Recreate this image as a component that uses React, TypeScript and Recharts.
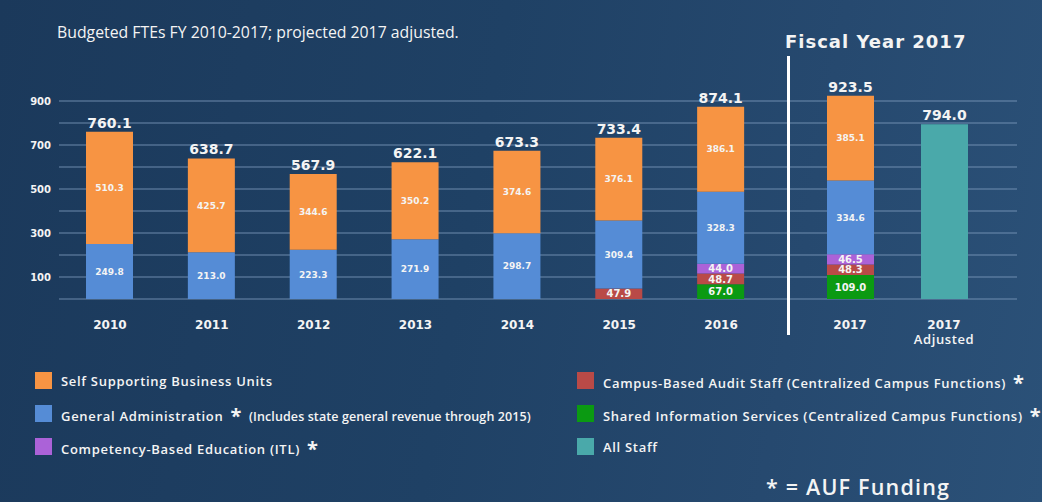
import React from 'react';
import { BarChart, Bar, XAxis, YAxis, CartesianGrid, LabelList } from 'recharts';

// ---------- data ----------
const categories = ['2010', '2011', '2012', '2013', '2014', '2015', '2016', '2017', '2017 Adjusted'];
const selfSupporting = [510.3, 425.7, 344.6, 350.2, 374.6, 376.1, 386.1, 385.1, null];
const generalAdmin = [249.8, 213.0, 223.3, 271.9, 298.7, 309.4, 328.3, 334.6, null];
const competencyBased = [null, null, null, null, null, null, 44.0, 46.5, null];
const auditStaff = [null, null, null, null, null, 47.9, 48.7, 48.3, null];
const sharedInfo = [null, null, null, null, null, null, 67.0, 109.0, null];
const allStaff = [null, null, null, null, null, null, null, null, 794.0];
const yTicks = [0, 100, 200, 300, 400, 500, 600, 700, 800, 900];
const splitIndex = 7; // categories before the "Fiscal Year 2017" divider

const title = 'Budgeted FTEs FY 2010-2017; projected 2017 adjusted.';
const fiscalTitle = 'Fiscal Year 2017';
const footnote = '* = AUF Funding';

// series in stacking order (bottom -> top)
const series = [
  { key: 'shared', name: 'Shared Information Services (Centralized Campus Functions)', star: true, note: '', color: '#0b9a12', values: sharedInfo },
  { key: 'audit', name: 'Campus-Based Audit Staff (Centralized Campus Functions)', star: true, note: '', color: '#b94a47', values: auditStaff },
  { key: 'cbe', name: 'Competency-Based Education (ITL)', star: true, note: '', color: '#ab62d8', values: competencyBased },
  { key: 'ga', name: 'General Administration', star: true, note: '(Includes state general revenue through 2015)', color: '#558cd6', values: generalAdmin },
  { key: 'ssbu', name: 'Self Supporting Business Units', star: false, note: '', color: '#f79443', values: selfSupporting },
  { key: 'all', name: 'All Staff', star: false, note: '', color: '#4aa9aa', values: allStaff },
];
const legendLeft = ['ssbu', 'ga', 'cbe'];
const legendRight = ['audit', 'shared', 'all'];

const rows = categories.map((c, i) => {
  const row: any = { name: c };
  let total = 0;
  series.forEach((s) => {
    row[s.key] = s.values[i];
    if (s.values[i] != null && s.key !== 'all') total += s.values[i] as number;
  });
  row.ssbuTotal = selfSupporting[i] != null ? total : null;
  row.allTotal = allStaff[i];
  return row;
});
const leftRows = rows.slice(0, splitIndex);
const rightRows = rows.slice(splitIndex);

const NUM_FONT = '"DejaVu Sans", sans-serif';
const TXT_FONT = '"Open Sans", sans-serif';
const WHITE = '#f4f4f4';

const InnerLabel = (props: any) => {
  const { x, y, width, height, value } = props;
  if (value == null || !height) return null;
  const small = value < 120;
  return (
    <text x={x + width / 2} y={y + height / 2} dy="0.36em" textAnchor="middle" fill={WHITE}
      fontFamily={NUM_FONT} fontWeight="bold" fontSize={small ? 10 : 9}>
      {Number(value).toFixed(1)}
    </text>
  );
};

const TotalLabel = (props: any) => {
  const { x, y, width, value } = props;
  if (value == null) return null;
  return (
    <text x={x + width / 2} y={y - 4} textAnchor="middle" fill={WHITE}
      fontFamily={NUM_FONT} fontWeight="bold" fontSize={14}>
      {Number(value).toFixed(1)}
    </text>
  );
};

const XTick = (props: any) => {
  const { x, y, payload } = props;
  const parts = String(payload.value).split(' ');
  return (
    <text x={x} y={y + 30} textAnchor="middle" fill={WHITE} fontFamily={NUM_FONT} fontWeight="bold" fontSize={12}>
      {parts.map((p, i) => (
        <tspan key={i} x={x} dy={i === 0 ? 0 : 15} fontFamily={i === 0 ? NUM_FONT : TXT_FONT} fontSize={i === 0 ? 12 : 13} fontWeight={i === 0 ? 'bold' : 600} letterSpacing={i === 0 ? 0 : 0.6}>{p}</tspan>
      ))}
    </text>
  );
};

const gridProps = { vertical: false, horizontalValues: yTicks, stroke: '#7f9dbd', strokeOpacity: 0.55, strokeWidth: 1.5 };

const renderBars = () =>
  series.map((s) => (
    <Bar key={s.key} dataKey={s.key} stackId="a" fill={s.color} barSize={47} isAnimationActive={false}>
      {s.key !== 'all' && <LabelList dataKey={s.key} content={InnerLabel} />}
      {s.key === 'ssbu' && <LabelList dataKey="ssbuTotal" content={TotalLabel} />}
      {s.key === 'all' && <LabelList dataKey="allTotal" content={TotalLabel} />}
    </Bar>
  ));

const LegendItem = ({ k }: { k: string }) => {
  const s = series.find((d) => d.key === k)!;
  return (
    <div style={{ display: 'flex', alignItems: 'center', height: 33 }}>
      <div style={{ width: 17, height: 17, background: s.color, marginRight: 9, flex: 'none' }} />
      <span style={{ fontFamily: TXT_FONT, fontWeight: 600, fontSize: 13, letterSpacing: 0.7, color: WHITE, whiteSpace: 'nowrap' }}>
        {s.name}
        {s.star && <span style={{ fontSize: 20, fontWeight: 700, marginLeft: 7, position: 'relative', top: 2 }}>*</span>}
        {s.note && <span style={{ fontSize: 12.5, letterSpacing: 0.1, marginLeft: 7 }}>{s.note}</span>}
      </span>
    </div>
  );
};

export default function App() {
  return (
    <div style={{ position: 'absolute', left: 0, top: 0, width: 1042, height: 502, overflow: 'hidden',
      background: 'linear-gradient(100deg, #1b395b 0%, #1f4165 45%, #26496f 75%, #2b5178 100%)' }}>
      <div style={{ position: 'absolute', left: 57, top: 21, fontFamily: TXT_FONT, fontSize: 15.8, color: WHITE, lineHeight: '22px', whiteSpace: 'nowrap' }}>{title}</div>
      <div style={{ position: 'absolute', left: 785, top: 29, fontFamily: NUM_FONT, fontWeight: 'bold', fontSize: 18, letterSpacing: 1, color: WHITE, lineHeight: '26px', whiteSpace: 'nowrap' }}>{fiscalTitle}</div>

      <div style={{ position: 'absolute', left: 0, top: 0 }}>
        <BarChart width={772} height={349} data={leftRows} margin={{ top: 79, right: 0, left: 0, bottom: 0 }}>
          <CartesianGrid {...gridProps} />
          <YAxis domain={[0, 1000]} ticks={yTicks} interval={0} width={59} axisLine={false} tickLine={false} tickSize={0} tickMargin={8}
            tick={{ fill: WHITE, fontFamily: NUM_FONT, fontWeight: 'bold', fontSize: 10 }}
            tickFormatter={(v: number) => ((v / 100) % 2 === 1 ? String(v) : '')} />
          <XAxis dataKey="name" height={50} axisLine={false} tickLine={false} tickSize={0} tickMargin={0} interval={0} tick={<XTick />} />
          {renderBars()}
        </BarChart>
      </div>
      <div style={{ position: 'absolute', left: 772, top: 0 }}>
        <BarChart width={270} height={349} data={rightRows} margin={{ top: 79, right: 25, left: 0, bottom: 0 }}>
          <CartesianGrid {...gridProps} />
          <YAxis hide domain={[0, 1000]} ticks={yTicks} interval={0} />
          <XAxis dataKey="name" height={50} axisLine={false} tickLine={false} tickSize={0} tickMargin={0} interval={0}
            padding={{ left: 31, right: 26 }} tick={<XTick />} />
          {renderBars()}
        </BarChart>
      </div>

      <div style={{ position: 'absolute', left: 787, top: 56, width: 3, height: 279, background: '#ffffff' }} />

      <div style={{ position: 'absolute', left: 35, top: 364 }}>
        {legendLeft.map((k) => <LegendItem key={k} k={k} />)}
      </div>
      <div style={{ position: 'absolute', left: 577, top: 364 }}>
        {legendRight.map((k) => <LegendItem key={k} k={k} />)}
      </div>
      <div style={{ position: 'absolute', left: 766, top: 473, fontFamily: TXT_FONT, fontWeight: 600, fontSize: 21.5, letterSpacing: 1.2, color: WHITE, lineHeight: '28px', whiteSpace: 'nowrap' }}>{footnote}</div>
    </div>
  );
}
